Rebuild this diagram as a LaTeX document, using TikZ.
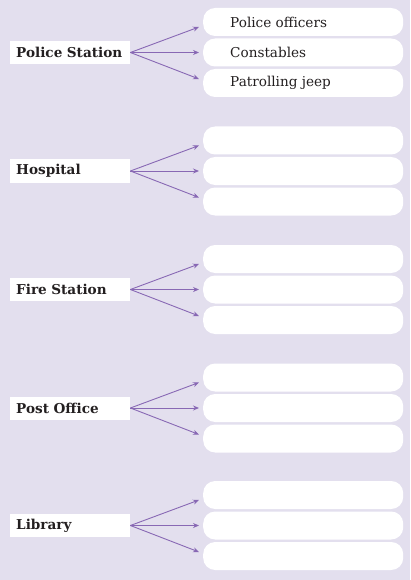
\documentclass[tikz,border=0pt]{standalone}
\usepackage{fontspec}
\setmainfont{DejaVu Serif}
\usetikzlibrary{arrows.meta}
\definecolor{bgcol}{RGB}{227,223,238}
\definecolor{arrcol}{RGB}{136,104,180}
\definecolor{txtcol}{RGB}{35,31,32}
\tikzset{
  x=1pt,y=-1pt,
  label/.style={fill=white,minimum width=120pt,minimum height=23pt,inner sep=0pt,anchor=west,text width=116pt,align=left,font=\bfseries\fontsize{13.6}{15}\selectfont,text=txtcol},
  answer/.style={fill=white,rounded corners=12pt,minimum width=200pt,minimum height=28pt,inner sep=0pt,anchor=west},
  anstext/.style={anchor=west,inner sep=0pt,font=\fontsize{13.6}{15}\selectfont,text=txtcol},
  arr/.style={draw=arrcol,line width=0.9pt,-{Stealth[length=6pt,width=5pt]}}
}
\begin{document}
\begin{tikzpicture}
\fill[bgcol] (0,0) rectangle (410,580);
\useasboundingbox (0,0) rectangle (410,580);
\foreach \i/\name/\cy in {1/Police Station/52.5,2/Hospital/171,3/Fire Station/289.5,4/Post Office/408,5/Library/525.5}{
  \node[label] (L\i) at (10,\cy) {\hspace*{4pt}\name};
  \node[answer] (A\i) at (203,\cy-30.5) {};
  \node[answer] (B\i) at (203,\cy) {};
  \node[answer] (C\i) at (203,\cy+30.5) {};
  \coordinate (a\i) at (199,\cy-25.5);
  \coordinate (b\i) at (199,\cy);
  \coordinate (c\i) at (199,\cy+26.5);
  \draw[arr] (L\i.east) -- (a\i);
  \draw[arr] (L\i.east) -- (b\i);
  \draw[arr] (L\i.east) -- (c\i);
}
\node[anstext] (t1) at (230,22) {Police officers};
\node[anstext] (t2) at (230,52.5) {Constables};
\node[anstext] (t3) at (230,83) {Patrolling jeep};
\end{tikzpicture}
\end{document}
